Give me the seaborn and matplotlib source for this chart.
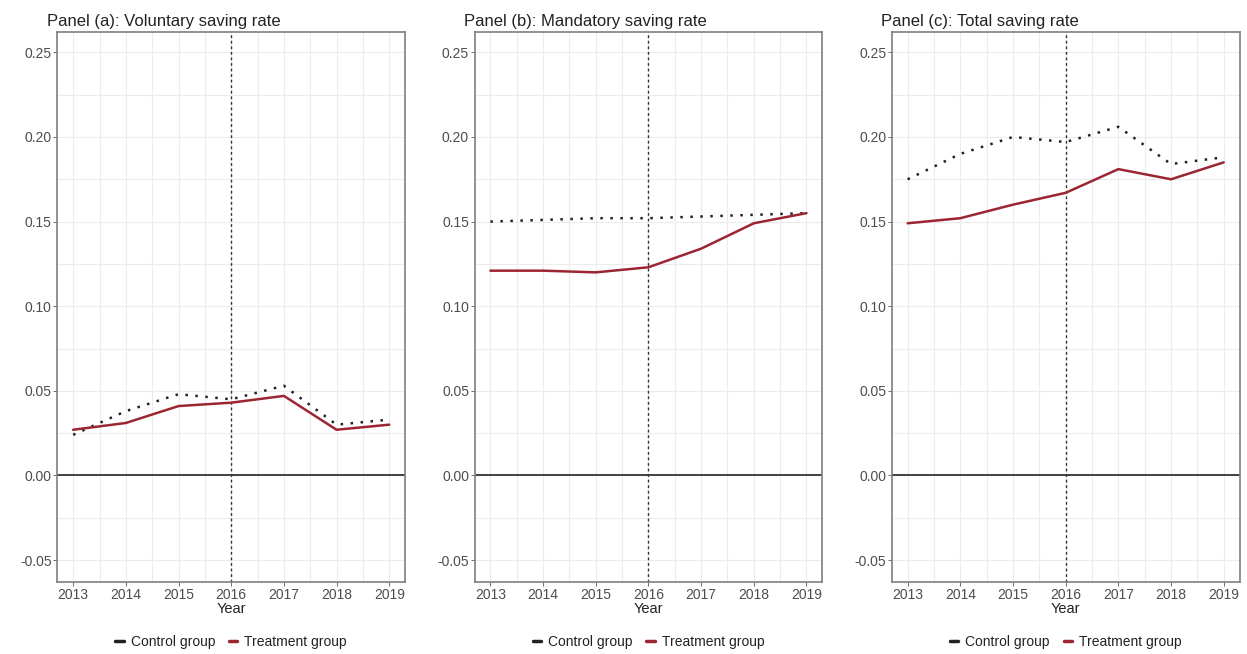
import numpy as np
import pandas as pd
import seaborn as sns
import matplotlib.pyplot as plt
from matplotlib.lines import Line2D
from matplotlib.ticker import MultipleLocator

years = [2013, 2014, 2015, 2016, 2017, 2018, 2019]
panel_titles = ["Panel (a): Voluntary saving rate",
                "Panel (b): Mandatory saving rate",
                "Panel (c): Total saving rate"]

voluntary_treat = [0.027, 0.031, 0.041, 0.043, 0.047, 0.027, 0.030]
voluntary_ctrl = [0.024, 0.038, 0.048, 0.045, 0.053, 0.030, 0.033]
mandatory_treat = [0.121, 0.121, 0.120, 0.123, 0.134, 0.149, 0.155]
mandatory_ctrl = [0.150, 0.151, 0.152, 0.152, 0.153, 0.154, 0.155]
total_treat = [0.149, 0.152, 0.160, 0.167, 0.181, 0.175, 0.185]
total_ctrl = [0.175, 0.190, 0.200, 0.197, 0.206, 0.184, 0.188]

panels = [(voluntary_ctrl, voluntary_treat),
          (mandatory_ctrl, mandatory_treat),
          (total_ctrl, total_treat)]

RED = "#9b2631"
GRID = "#ececec"

sns.set_theme(style="white")
plt.rcParams['font.family'] = ['Liberation Sans', 'DejaVu Sans']

fig, axes = plt.subplots(1, 3, figsize=(12.47, 6.54), dpi=100)
fig.subplots_adjust(left=0.046, right=0.994, top=0.951, bottom=0.110, wspace=0.2)

for ax, title, (ctrl, treat) in zip(axes, panel_titles, panels):
    df = pd.DataFrame({
        "Year": years * 2,
        "rate": ctrl + treat,
        "group": ["Control group"] * 7 + ["Treatment group"] * 7,
    })
    sns.lineplot(data=df, x="Year", y="rate", hue="group", style="group",
                 palette={"Control group": "#222222", "Treatment group": RED},
                 dashes={"Control group": (1, 3), "Treatment group": ""},
                 linewidth=1.8, ax=ax, legend=False)

    ax.axhline(0, color="#333333", lw=1.3, zorder=1)
    ax.axvline(2016, color="#333333", lw=1.0, ls=(0, (2, 2)), zorder=1)

    ax.set_xlim(2012.7, 2019.3)
    ax.set_ylim(-0.063, 0.262)
    ax.set_xticks(years)
    ax.xaxis.set_minor_locator(MultipleLocator(0.5))
    ax.yaxis.set_major_locator(MultipleLocator(0.05))
    ax.yaxis.set_minor_locator(MultipleLocator(0.025))
    ax.yaxis.set_major_formatter(plt.FuncFormatter(lambda v, p: f"{v:.2f}"))
    ax.grid(True, which="both", color=GRID, lw=0.8, zorder=0)
    ax.set_axisbelow(True)
    ax.tick_params(axis="both", which="major", length=3, width=0.6, color="#555555",
                   labelsize=10, labelcolor="#4d4d4d", pad=1, bottom=True, left=True)
    ax.tick_params(which="minor", length=0)
    for s in ax.spines.values():
        s.set_color("#7f7f7f")
        s.set_linewidth(1.2)

    ax.set_xlabel("Year", fontsize=10.5, color="#222222", labelpad=0)
    ax.set_ylabel("")
    ax.set_title(title, loc="left", fontsize=12, color="#222222", pad=4, x=-0.03)

    handles = [Line2D([], [], color="#222222", lw=2.5),
               Line2D([], [], color=RED, lw=2.5)]
    ax.legend(handles, ["Control group", "Treatment group"], loc="center",
              bbox_to_anchor=(0.5, -0.109), ncol=2, frameon=False, fontsize=10,
              handlelength=0.6, handletextpad=0.5, columnspacing=1.0,
              labelcolor="#222222")

fig.savefig("out.png", dpi=100)
